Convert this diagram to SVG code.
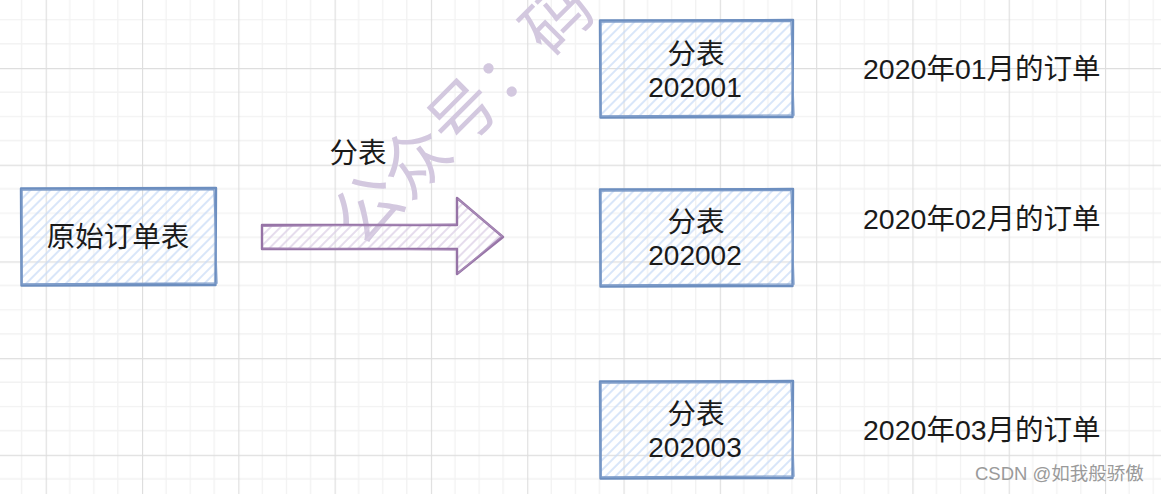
<svg xmlns="http://www.w3.org/2000/svg" width="1161" height="494" viewBox="0 0 1161 494">
<defs>
<pattern id="grid" patternUnits="userSpaceOnUse" x="45.7" y="68" width="96.3" height="96.7">
<g stroke="#f2f2f2" stroke-width="1.3">
<line x1="24.1" y1="0" x2="24.1" y2="96.7"/><line x1="48.2" y1="0" x2="48.2" y2="96.7"/><line x1="72.2" y1="0" x2="72.2" y2="96.7"/>
<line x1="0" y1="24.2" x2="96.3" y2="24.2"/><line x1="0" y1="48.4" x2="96.3" y2="48.4"/><line x1="0" y1="72.5" x2="96.3" y2="72.5"/>
</g>
<g stroke="#dedede" stroke-width="1.3">
<line x1="0.5" y1="0" x2="0.5" y2="96.7"/><line x1="0" y1="0.5" x2="96.3" y2="0.5"/>
</g>
</pattern>
<pattern id="hatchBlue" patternUnits="userSpaceOnUse" width="7" height="7" patternTransform="rotate(45)">
<line x1="2" y1="0" x2="2" y2="7" stroke="#c9dcf6" stroke-width="1.4"/>
</pattern>
<pattern id="hatchPurple" patternUnits="userSpaceOnUse" width="7" height="7" patternTransform="rotate(45)">
<line x1="2" y1="0" x2="2" y2="7" stroke="#dccfe6" stroke-width="1.4"/>
</pattern>
</defs>
<style>
.box{fill:url(#hatchBlue);stroke:none}
.edge{fill:none;stroke:#6c8ebf;stroke-width:2.4;stroke-linejoin:round}
.edge2{fill:none;stroke:#7c9bc9;stroke-width:1.3}
.t{font-family:"Liberation Sans","Noto Sans CJK SC",sans-serif;font-size:28.5px;fill:#1a1a1a;text-anchor:middle}
.num{font-size:28px}
.lbl{font-family:"Liberation Sans","Noto Sans CJK SC",sans-serif;font-size:28.5px;fill:#1a1a1a}
</style>
<rect width="1161" height="494" fill="#ffffff"/>
<rect width="1161" height="494" fill="url(#grid)"/>

<g id="wm">
<text x="361" y="249" transform="rotate(-45 361 249)" font-family="'Noto Sans CJK SC',sans-serif" font-size="67" fill="#d3c8df">公众号：码</text>
</g>

<g id="connectors">
<path d="M262,225 L457,225 L457,198 L503,237 L457,274 L457,249 L262,249 Z" fill="url(#hatchPurple)" stroke="#9673a6" stroke-width="2.4" stroke-linejoin="round"/>
<path d="M263,226.5 L456,224 M458,199 L502,236 L458,273 M263,248 L456,250" fill="none" stroke="#a98bb8" stroke-width="1.2"/>
<text class="t" x="358" y="163">分表</text>
</g>

<g id="n-orig">
<rect class="box" x="21" y="188" width="195" height="97"/>
<path class="edge" d="M21,188.5 L216,188 L215.5,285 L21.5,285.5 Z"/>
<path class="edge2" d="M22,190 L214,189.5 L217,283 L22,284 Z"/>
<text class="t" x="118" y="247">原始订单表</text>
</g>

<g id="n-202001">
<rect class="box" x="600" y="20" width="193" height="97"/>
<path class="edge" d="M600,20.5 L793,20 L792.5,117 L600.5,117.5 Z"/>
<path class="edge2" d="M601,22 L791,21.5 L794,115 L601,116 Z"/>
<text class="t" x="696" y="64">分表</text>
<text class="t num" x="695" y="97">202001</text>
</g>

<g id="n-202002">
<rect class="box" x="600" y="189" width="193" height="97"/>
<path class="edge" d="M600,189.5 L793,189 L792.5,286 L600.5,286.5 Z"/>
<path class="edge2" d="M601,191 L791,190.5 L794,284 L601,285 Z"/>
<text class="t" x="696" y="232">分表</text>
<text class="t num" x="695" y="265">202002</text>
</g>

<g id="n-202003">
<rect class="box" x="600" y="381" width="193" height="97"/>
<path class="edge" d="M600,381.5 L793,381 L792.5,478 L600.5,478.5 Z"/>
<path class="edge2" d="M601,383 L791,382.5 L794,476 L601,477 Z"/>
<text class="t" x="696" y="424">分表</text>
<text class="t num" x="695" y="457">202003</text>
</g>

<g id="labels">
<text class="lbl" x="863" y="79">2020年01月的订单</text>
<text class="lbl" x="863" y="229">2020年02月的订单</text>
<text class="lbl" x="863" y="440">2020年03月的订单</text>
</g>

<text x="975" y="480" font-family="'Liberation Sans','Noto Sans CJK SC',sans-serif" font-size="18.5" fill="#9a9a9a">CSDN @如我般骄傲</text>
</svg>
